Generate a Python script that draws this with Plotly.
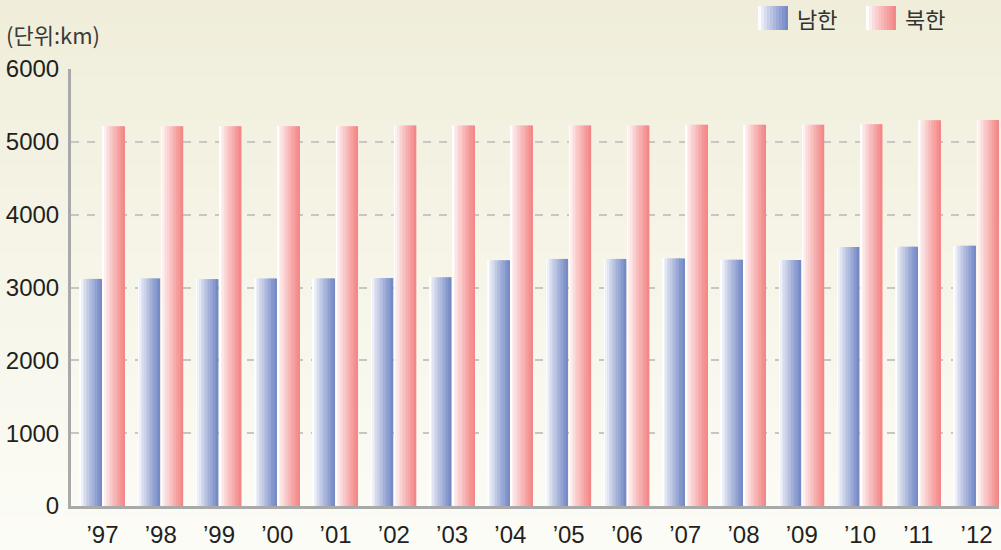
import plotly.graph_objects as go

# ---------------- data ----------------
years = ["\u201997", "\u201998", "\u201999", "\u201900", "\u201901", "\u201902", "\u201903", "\u201904",
         "\u201905", "\u201906", "\u201907", "\u201908", "\u201909", "\u201910", "\u201911", "\u201912"]
south = [3118, 3125, 3115, 3123, 3125, 3129, 3140, 3374, 3392, 3392, 3399, 3381, 3378, 3557, 3559, 3572]
north = [5214, 5214, 5214, 5214, 5214, 5224, 5224, 5224, 5224, 5224, 5235, 5235, 5235, 5242, 5298, 5299]
series_names = ["남한", "북한"]
y_ticks = [0, 1000, 2000, 3000, 4000, 5000, 6000]
unit_label = "(단위:km)"

# ---------------- layout geometry ----------------
W, H = 1001, 550
L, R, T, B = 71, 2, 69, 44
PW, PH = W - L - R, H - T - B

def px2paper_x(px):
    return (px - L) / PW

def px2paper_y(py):
    return (H - B - py) / PH

def lerp(c1, c2, t):
    return "rgb(%d,%d,%d)" % tuple(round(a + (b - a) * t) for a, b in zip(c1, c2))

WHITE = (255, 255, 255)
BLUE = (118, 138, 198)
RED = (243, 136, 136)

fig = go.Figure()

# gradient bars built from thin slices
N = 14
bar_w = 0.378
offsets = [-0.388, 0.008]
for vals, col, off in [(south, BLUE, offsets[0]), (north, RED, offsets[1])]:
    sw = bar_w / N
    for i in range(N):
        t = (i / (N - 1)) ** 0.85
        t = 0.02 + 0.98 * t
        fig.add_trace(go.Bar(
            x=years, y=vals,
            offset=off + i * sw,
            width=sw * (1.25 if i < N - 1 else 1.0),
            marker=dict(color=lerp(WHITE, col, t), line=dict(width=0)),
            showlegend=False, hoverinfo="skip",
        ))

# background gradient (whole figure)
shapes = []
TOP = (240, 238, 218)
BOT = (252, 252, 247)
NS = 50
for k in range(NS):
    py0 = H * k / NS
    py1 = H * (k + 1) / NS + 1
    shapes.append(dict(
        type="rect", xref="paper", yref="paper", layer="below",
        x0=px2paper_x(-5), x1=px2paper_x(W + 5),
        y0=px2paper_y(py1), y1=px2paper_y(py0),
        fillcolor=lerp(TOP, BOT, k / (NS - 1)), line=dict(width=0),
    ))

# manual legend
annotations = []
legend_items = [(758, BLUE, series_names[0], 795), (866, RED, series_names[1], 903)]
M = 10
for bx, col, name, tx in legend_items:
    bw = 30
    for i in range(M):
        t = 0.02 + 0.98 * (i / (M - 1)) ** 0.85
        x0 = bx + bw * i / M
        x1 = bx + bw * (i + 1) / M + (0.6 if i < M - 1 else 0)
        shapes.append(dict(
            type="rect", xref="paper", yref="paper", layer="above",
            x0=px2paper_x(x0), x1=px2paper_x(x1),
            y0=px2paper_y(30), y1=px2paper_y(6),
            fillcolor=lerp(WHITE, col, t), line=dict(width=0),
        ))
    annotations.append(dict(
        x=px2paper_x(tx), y=px2paper_y(18), xref="paper", yref="paper",
        text=name, showarrow=False, xanchor="left", yanchor="middle",
        font=dict(family="Noto Sans CJK KR", size=22, color="#333333"),
    ))

annotations.append(dict(
    x=px2paper_x(4), y=px2paper_y(34), xref="paper", yref="paper",
    text=unit_label, showarrow=False, xanchor="left", yanchor="middle",
    font=dict(family="Noto Sans CJK KR", size=22, color="#3a3a3a"),
))

fig.update_layout(
    width=W, height=H,
    margin=dict(l=L, r=R, t=T, b=B, pad=0),
    barmode="overlay",
    paper_bgcolor="#f7f6ec",
    plot_bgcolor="rgba(0,0,0,0)",
    shapes=shapes,
    annotations=annotations,
    showlegend=False,
    font=dict(family="Liberation Sans, Arial", color="#231f20"),
)

fig.update_xaxes(
    type="category",
    range=[-0.54, 15.385],
    showgrid=False,
    showline=True, linecolor="#a9a9a9", linewidth=3,
    ticks="", tickfont=dict(size=24, color="#231f20"),
    ticklabelstandoff=5,
)
fig.update_yaxes(
    range=[0, 6000],
    tickvals=y_ticks,
    showgrid=True, gridcolor="#c6c6c4", gridwidth=2, griddash="8px,8px",
    zeroline=False,
    showline=True, linecolor="#a9a9a9", linewidth=3,
    ticks="", tickfont=dict(size=24, color="#231f20"),
    ticklabelstandoff=4,
)

fig.write_html(
    "out.html",
    config={"displayModeBar": False},
    post_script="document.body.style.margin='0';document.body.style.overflow='hidden';",
)
